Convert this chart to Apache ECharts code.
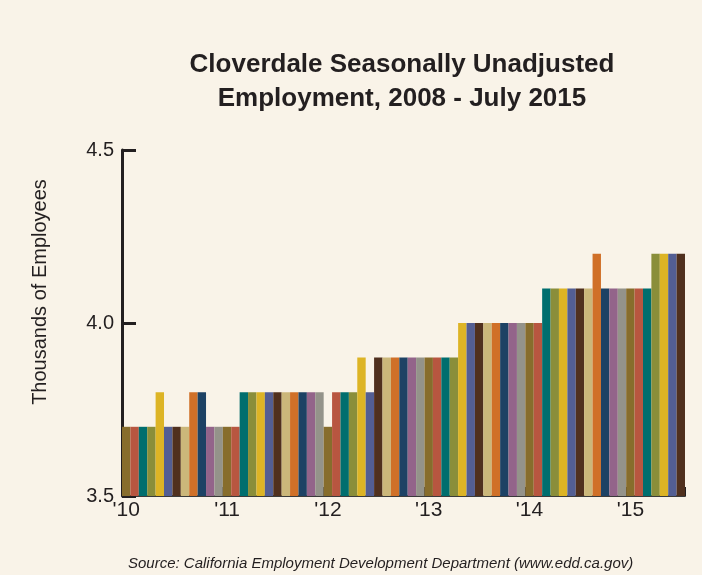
<!DOCTYPE html>
<html>
<head>
<meta charset="utf-8">
<script src="https://cdn.jsdelivr.net/npm/echarts@6/dist/echarts.min.js"></script>
<style>
html,body{margin:0;padding:0;background:#F9F3E8;}
#chart{width:702px;height:575px;}
</style>
</head>
<body>
<div id="chart"></div>
<script>
// Monthly data Jan 2010 - Jul 2015
const years = ['10','11','12','13','14','15'];
const values2010 = [3.7,3.7,3.7,3.7,3.8,3.7,3.7,3.7,3.8,3.8,3.7,3.7];
const values2011 = [3.7,3.7,3.8,3.8,3.8,3.8,3.8,3.8,3.8,3.8,3.8,3.8];
const values2012 = [3.7,3.8,3.8,3.8,3.9,3.8,3.9,3.9,3.9,3.9,3.9,3.9];
const values2013 = [3.9,3.9,3.9,3.9,4.0,4.0,4.0,4.0,4.0,4.0,4.0,4.0];
const values2014 = [4.0,4.0,4.1,4.1,4.1,4.1,4.1,4.1,4.2,4.1,4.1,4.1];
const values2015 = [4.1,4.1,4.1,4.2,4.2,4.2,4.2];
const yTicks = [3.5, 4.0, 4.5];

const monthColors = ['#876D2C','#B85640','#006E6E','#8A8E3A','#DDB425','#535E93',
                     '#50301E','#CBB77A','#D07028','#1D4264','#93648A','#94938A'];

const allValues = [].concat(values2010, values2011, values2012, values2013, values2014, values2015);
const categories = allValues.map((v, i) => {
  const y = years[Math.floor(i / 12)];
  return (i % 12 === 0) ? "'" + y : y + '-' + (i % 12 + 1);
});

const chart = echarts.init(document.getElementById('chart'));
const txt = '#231F20';
const ff = '"Liberation Sans", Arial, sans-serif';
chart.setOption({
  backgroundColor: '#F9F3E8',
  animation: false,
  title: {
    text: 'Cloverdale Seasonally Unadjusted\nEmployment, 2008 - July 2015',
    left: 397, top: 43, textAlign: 'center',
    textStyle: { fontFamily: ff, fontSize: 26, fontWeight: 'bold', color: txt, lineHeight: 34 }
  },
  graphic: [{
    type: 'text', left: 128, top: 556,
    style: { text: 'Source: California Employment Development Department (www.edd.ca.gov)',
      font: 'italic 15px "Liberation Sans", Arial, sans-serif', fill: txt }
  }, {
    type: 'text', x: 40, y: 292, rotation: Math.PI / 2,
    style: { text: 'Thousands of Employees', font: '20px "Liberation Sans", Arial, sans-serif',
      fill: txt, align: 'center', verticalAlign: 'middle' }
  }],
  grid: { left: 122, right: 17, top: 150, bottom: 79 },
  xAxis: {
    type: 'category',
    data: categories,
    boundaryGap: true,
    axisLine: { lineStyle: { color: '#3a3a3a', width: 2 } },
    axisTick: { show: true, inside: true, length: 9, interval: (i) => i % 12 === 0, lineStyle: { color: txt, width: 2 } },
    axisLabel: { interval: (i) => i % 12 === 0, fontSize: 21, color: txt, margin: 4, fontFamily: ff }
  },
  yAxis: {
    type: 'value', min: 3.5, max: 4.5, interval: 0.5,
    axisLine: { show: true, lineStyle: { color: txt, width: 3 } },
    axisTick: { show: true, inside: true, length: 14, lineStyle: { color: txt, width: 3 } },
    splitLine: { show: false },
    axisLabel: { fontSize: 20, color: txt, margin: 8, fontFamily: ff,
      formatter: (v) => yTicks.includes(Math.round(v*10)/10) ? v.toFixed(1) : '' }
  },
  series: [{
    type: 'bar',
    data: allValues,
    barCategoryGap: 0,
    barGap: 0,
    itemStyle: { color: (p) => monthColors[p.dataIndex % 12] }
  }]
});
</script>
</body>
</html>
